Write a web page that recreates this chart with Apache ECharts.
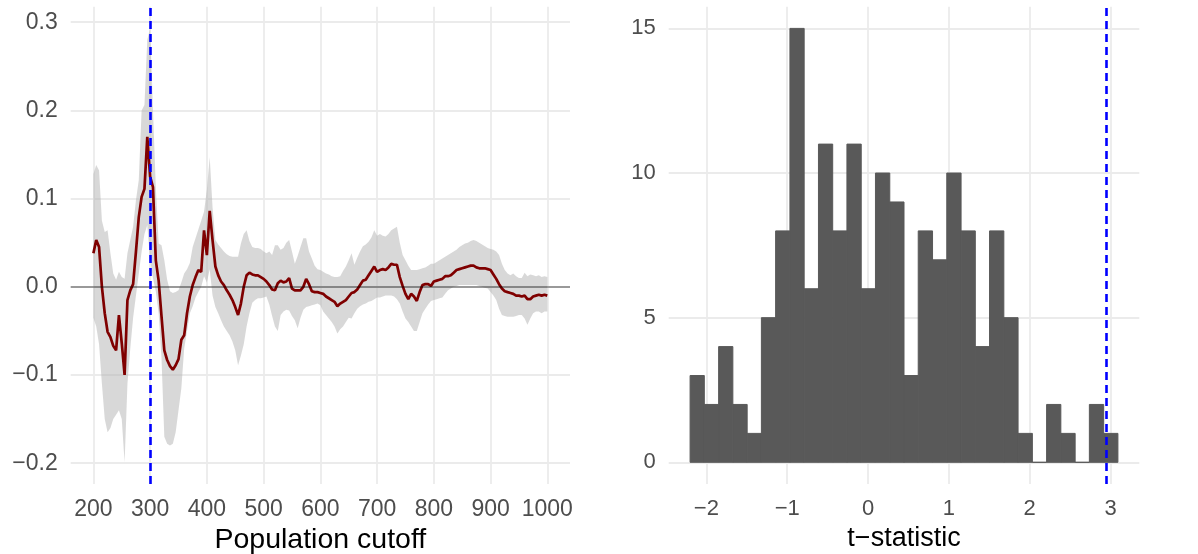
<!DOCTYPE html>
<html><head><meta charset="utf-8">
<script src="https://cdn.jsdelivr.net/npm/echarts@6/dist/echarts.min.js"></script>
<style>html,body{margin:0;padding:0;background:#fff}#c{width:1198px;height:554px}</style>
</head><body><div id="c"></div>
<script>
// ---------- Left panel: estimate by population cutoff ----------
const cutoffs = [200,205,210,215,220,225,230,235,240,245,250,255,260,265,270,275,280,285,290,295,
300,305,310,315,320,325,330,335,340,345,350,355,360,365,370,375,380,385,390,395,
400,405,410,415,420,425,430,435,440,445,450,455,460,465,470,475,480,485,490,495,
500,505,510,515,520,525,530,535,540,545,550,555,560,565,570,575,580,585,590,595,
600,605,610,615,620,625,630,635,640,645,650,655,660,665,670,675,680,685,690,695,
700,705,710,715,720,725,730,735,740,745,750,755,760,765,770,775,780,785,790,795,
800,805,810,815,820,825,830,835,840,845,850,855,860,865,870,875,880,885,890,895,
900,905,910,915,920,925,930,935,940,945,950,955,960,965,970,975,980,985,990,995,1000];

const estimate = [0.038,0.053,0.045,0.000,-0.030,-0.051,-0.057,-0.067,-0.072,-0.032,-0.064,-0.100,-0.015,-0.004,0.003,0.040,0.079,0.102,0.111,0.170,
0.125,0.113,0.030,0.007,-0.033,-0.072,-0.083,-0.090,-0.094,-0.089,-0.082,-0.060,-0.055,-0.030,-0.011,0.002,0.011,0.019,0.017,0.064,
0.036,0.086,0.053,0.023,0.013,0.006,0.002,-0.004,-0.009,-0.015,-0.023,-0.032,-0.019,0.000,0.013,0.016,0.014,0.013,0.013,0.011,
0.009,0.006,0.002,-0.003,-0.004,0.004,0.007,0.005,0.006,0.010,-0.002,-0.004,-0.004,-0.004,0.000,0.009,0.003,-0.005,-0.006,-0.006,
-0.007,-0.008,-0.011,-0.013,-0.015,-0.017,-0.022,-0.019,-0.017,-0.015,-0.011,-0.007,-0.006,-0.003,0.002,0.007,0.008,0.013,0.018,0.023,
0.017,0.019,0.020,0.019,0.022,0.026,0.025,0.025,0.011,0.001,-0.008,-0.014,-0.008,-0.011,-0.016,-0.006,0.002,0.003,0.003,0.001,
0.006,0.007,0.008,0.009,0.012,0.012,0.013,0.016,0.019,0.020,0.021,0.022,0.023,0.024,0.024,0.022,0.021,0.021,0.021,0.020,
0.019,0.014,0.009,0.003,-0.002,-0.005,-0.006,-0.007,-0.008,-0.010,-0.010,-0.011,-0.010,-0.014,-0.014,-0.011,-0.010,-0.009,-0.010,-0.009,-0.010];

const ciLower = [-0.035,-0.045,-0.065,-0.110,-0.150,-0.165,-0.160,-0.150,-0.145,-0.140,-0.150,-0.199,-0.110,-0.070,-0.035,-0.010,0.015,0.040,0.060,0.070,
0.030,0.010,-0.005,-0.030,-0.080,-0.170,-0.178,-0.180,-0.178,-0.165,-0.140,-0.115,-0.070,-0.050,-0.030,-0.022,-0.012,-0.006,0.000,0.012,
0.005,0.020,-0.010,-0.023,-0.030,-0.038,-0.045,-0.050,-0.055,-0.062,-0.072,-0.089,-0.078,-0.065,-0.045,-0.030,-0.018,-0.015,-0.013,-0.013,
-0.012,-0.011,-0.020,-0.033,-0.045,-0.050,-0.032,-0.028,-0.026,-0.027,-0.033,-0.038,-0.047,-0.035,-0.026,-0.023,-0.022,-0.021,-0.020,-0.019,
-0.021,-0.028,-0.032,-0.036,-0.040,-0.045,-0.053,-0.048,-0.045,-0.040,-0.035,-0.036,-0.030,-0.025,-0.022,-0.020,-0.019,-0.017,-0.016,-0.014,
-0.012,-0.012,-0.011,-0.010,-0.010,-0.010,-0.011,-0.014,-0.019,-0.028,-0.036,-0.040,-0.045,-0.050,-0.050,-0.040,-0.030,-0.025,-0.020,-0.016,
-0.015,-0.014,-0.013,-0.012,-0.008,-0.004,-0.002,0.000,0.001,0.002,0.002,0.002,0.002,0.002,0.002,0.002,0.001,0.000,-0.001,-0.002,
-0.006,-0.010,-0.015,-0.025,-0.032,-0.033,-0.034,-0.034,-0.034,-0.033,-0.032,-0.032,-0.036,-0.043,-0.036,-0.030,-0.028,-0.028,-0.030,-0.028,-0.028];

const ciUpper = [0.128,0.138,0.132,0.075,0.062,0.064,0.038,0.015,0.008,0.017,0.011,0.009,0.038,0.053,0.068,0.098,0.121,0.200,0.206,0.280,
0.293,0.200,0.113,0.049,0.047,0.030,0.008,-0.005,-0.007,-0.006,-0.004,0.005,0.015,0.020,0.027,0.045,0.055,0.065,0.075,0.085,
0.110,0.147,0.090,0.053,0.048,0.044,0.040,0.037,0.035,0.034,0.034,0.034,0.049,0.060,0.064,0.052,0.045,0.044,0.044,0.043,
0.040,0.038,0.040,0.036,0.047,0.047,0.042,0.044,0.050,0.053,0.040,0.026,0.035,0.045,0.055,0.055,0.040,0.032,0.024,0.020,
0.019,0.017,0.015,0.014,0.012,0.011,0.011,0.012,0.018,0.023,0.030,0.038,0.025,0.033,0.040,0.046,0.048,0.051,0.056,0.064,
0.058,0.060,0.058,0.057,0.060,0.064,0.066,0.068,0.050,0.036,0.030,0.024,0.019,0.019,0.019,0.020,0.021,0.022,0.024,0.026,
0.026,0.028,0.030,0.032,0.034,0.036,0.038,0.040,0.042,0.045,0.047,0.049,0.050,0.052,0.053,0.052,0.050,0.048,0.046,0.044,
0.043,0.042,0.040,0.036,0.026,0.019,0.015,0.013,0.015,0.012,0.010,0.010,0.016,0.012,0.014,0.013,0.012,0.013,0.011,0.012,0.011];

const chosenCutoff = 300;
const leftXTicks = [200,300,400,500,600,700,800,900,1000];
const leftYTicks = [-0.2,-0.1,0.0,0.1,0.2,0.3];

// ---------- Right panel: histogram of t-statistics ----------
const tBinEdges = [-2.201,-2.025,-1.848,-1.672,-1.495,-1.319,-1.143,-0.966,-0.790,-0.613,-0.437,-0.261,-0.084,0.092,0.269,0.445,
0.621,0.798,0.974,1.151,1.327,1.503,1.680,1.856,2.033,2.209,2.385,2.562,2.738,2.915,3.091];
const tCounts = [3,2,4,2,1,5,8,15,6,11,8,11,6,10,9,3,8,7,10,8,4,8,5,1,0,2,1,0,2,1];
const tObserved = 2.947;
const rightXTicks = [-2,-1,0,1,2,3];
const rightYTicks = [0,5,10,15];

// ---------- build ----------
const FONT = 'Liberation Sans, Arial, Helvetica, sans-serif';
const tickColor = '#4d4d4d';
const gridColor = '#ebebeb';
const minus = s => String(s).replace('-', '\u2212');

const bandData = cutoffs.map((x, i) => [x, ciLower[i], ciUpper[i]]);
const estPts = cutoffs.map((x, i) => [x, estimate[i]]);
const histData = tCounts.map((c, i) => [tBinEdges[i], tBinEdges[i + 1], c]);

function padRange(lo, hi) { const d = (hi - lo) * 0.05; return [lo - d, hi + d]; }
const lxR = padRange(leftXTicks[0], leftXTicks[leftXTicks.length - 1]);
const lyR = padRange(Math.min(...ciLower), Math.max(...ciUpper));
const rxR = padRange(tBinEdges[0], tBinEdges[tBinEdges.length - 1]);
const ryR = padRange(0, Math.max(...tCounts));

function labelStyle(fmt, size, margin) {
  return { color: tickColor, fontSize: size, fontFamily: FONT, margin: margin,
    showMinLabel: false, showMaxLabel: false, formatter: fmt };
}
function axisCommon(extra) {
  return Object.assign({
    type: 'value',
    axisLine: { show: false },
    axisTick: { show: false },
    splitLine: { show: true, showMinLine: false, showMaxLine: false, lineStyle: { color: gridColor, width: 1.8 } }
  }, extra);
}

const option = {
  animation: false,
  backgroundColor: '#fff',
  textStyle: { fontFamily: FONT },
  grid: [
    { left: 70.7, top: 6.7, width: 499.3, height: 477.3, containLabel: false, outerBoundsMode: 'none' },
    { left: 668.7, top: 6.7, width: 470.6, height: 477.3, containLabel: false, outerBoundsMode: 'none' }
  ],
  xAxis: [
    axisCommon({ gridIndex: 0, min: lxR[0], max: lxR[1], minInterval: 100, maxInterval: 100,
      name: 'Population cutoff', nameLocation: 'middle', nameGap: 41,
      nameTextStyle: { color: '#000', fontSize: 28.5, fontFamily: FONT },
      axisLabel: labelStyle(v => String(v), 23, 14) }),
    axisCommon({ gridIndex: 1, min: rxR[0], max: rxR[1], minInterval: 1, maxInterval: 1,
      name: 't\u2212statistic', nameLocation: 'middle', nameGap: 41,
      nameTextStyle: { color: '#000', fontSize: 27, fontFamily: FONT },
      axisLabel: labelStyle(v => minus(v), 22, 14) })
  ],
  yAxis: [
    axisCommon({ gridIndex: 0, min: lyR[0], max: lyR[1], minInterval: 0.1, maxInterval: 0.1,
      axisLabel: labelStyle(v => minus(Number(v).toFixed(1)), 23, 13) }),
    axisCommon({ gridIndex: 1, min: ryR[0], max: ryR[1], minInterval: 5, maxInterval: 5,
      axisLabel: labelStyle(v => String(v), 22, 13) })
  ],
  series: [
    { type: 'custom', xAxisIndex: 0, yAxisIndex: 0, data: bandData, encode: { x: 0, y: [1, 2] }, z: 2, silent: true,
      renderItem: function (params, api) {
        if (params.dataIndex !== 0) return null;
        const pts = [];
        for (let i = 0; i < bandData.length; i++) pts.push(api.coord([bandData[i][0], bandData[i][2]]));
        for (let i = bandData.length - 1; i >= 0; i--) pts.push(api.coord([bandData[i][0], bandData[i][1]]));
        return { type: 'polygon', shape: { points: pts }, style: { fill: 'rgba(178,178,178,0.5)' } };
      } },
    { type: 'line', xAxisIndex: 0, yAxisIndex: 0, data: [], z: 3, silent: true,
      markLine: { silent: true, symbol: 'none', label: { show: false }, animation: false,
        lineStyle: { color: 'rgba(0,0,0,0.35)', width: 2, type: 'solid' }, data: [{ yAxis: 0 }] } },
    { type: 'line', xAxisIndex: 0, yAxisIndex: 0, data: estPts, symbol: 'none', z: 4,
      lineStyle: { color: '#7f0000', width: 2.7 } },
    { type: 'line', xAxisIndex: 0, yAxisIndex: 0, data: [], z: 5, silent: true,
      markLine: { silent: true, symbol: 'none', label: { show: false }, animation: false,
        lineStyle: { color: '#0000ff', width: 2.6, type: [8, 5] }, data: [{ xAxis: chosenCutoff }] } },
    { type: 'custom', xAxisIndex: 1, yAxisIndex: 1, data: histData, encode: { x: [0, 1], y: 2 }, z: 2,
      renderItem: function (params, api) {
        const p0 = api.coord([api.value(0), api.value(2)]);
        const p1 = api.coord([api.value(1), 0]);
        return { type: 'rect', shape: { x: p0[0], y: p0[1], width: p1[0] - p0[0], height: p1[1] - p0[1] },
          style: { fill: '#595959', stroke: '#595959', lineWidth: 1 } };
      } },
    { type: 'line', xAxisIndex: 1, yAxisIndex: 1, data: [], z: 5, silent: true,
      markLine: { silent: true, symbol: 'none', label: { show: false }, animation: false,
        lineStyle: { color: '#0000ff', width: 2.6, type: [8, 5] }, data: [{ xAxis: tObserved }] } }
  ]
};
const chart = echarts.init(document.getElementById('c'), null, { renderer: 'canvas' });
chart.setOption(option);
</script></body></html>
